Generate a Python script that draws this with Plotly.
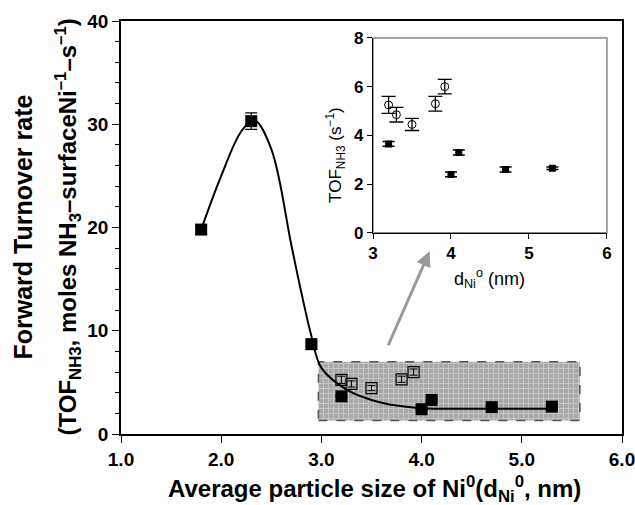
import plotly.graph_objects as go

# Main chart data
main_x = [1.8, 2.3, 2.9, 3.2, 4.0, 4.1, 4.7, 5.3]
main_y = [19.8, 30.3, 8.7, 3.65, 2.4, 3.3, 2.6, 2.65]
main_err = [0.4, 0.8, 0.2, 0.1, 0.1, 0.1, 0.1, 0.05]

open_x = [3.2, 3.3, 3.5, 3.8, 3.92]
open_y = [5.25, 4.85, 4.45, 5.3, 6.0]
open_err = [0.35, 0.3, 0.25, 0.3, 0.3]

# Smooth fitted curve
curve_x = [1.8, 2.0, 2.2, 2.33, 2.5, 2.7, 2.8, 2.9, 3.0, 3.25, 3.5, 3.75, 4.0, 4.5, 5.3]
curve_y = [19.8, 25.0, 29.3, 30.4, 27.6, 18.3, 13.7, 9.5, 6.4, 4.3, 3.3, 2.75, 2.5, 2.45, 2.45]

# Inset data
inset_fill_x = [3.2, 4.0, 4.1, 4.7, 5.3]
inset_fill_y = [3.65, 2.4, 3.3, 2.6, 2.65]
inset_fill_err = [0.1, 0.1, 0.1, 0.1, 0.05]

# Highlight box range
box_x = [2.97, 5.58]
box_y = [1.3, 7.0]

FONT = "Liberation Sans, Arial, sans-serif"

fig = go.Figure()

fig.add_trace(go.Scatter(
    x=[box_x[0], box_x[1], box_x[1], box_x[0], box_x[0]],
    y=[box_y[0], box_y[0], box_y[1], box_y[1], box_y[0]],
    mode="lines", fill="toself",
    fillcolor="#b4b4b4",
    fillpattern=dict(shape="+", fgcolor="#e4e4e4", bgcolor="#a8a8a8", size=5, solidity=0.35),
    line=dict(color="#555555", width=1.5, dash="dash"),
    hoverinfo="skip", showlegend=False, xaxis="x", yaxis="y"))

fig.add_trace(go.Scatter(
    x=curve_x, y=curve_y, mode="lines", line=dict(color="black", width=2, shape="spline", smoothing=1.0),
    showlegend=False, hoverinfo="skip"))

fig.add_trace(go.Scatter(
    x=open_x, y=open_y, mode="markers",
    marker=dict(symbol="square-open", size=11, color="black", line=dict(width=1.2)),
    error_y=dict(type="data", array=open_err, color="black", thickness=1, width=4),
    showlegend=False))

fig.add_trace(go.Scatter(
    x=main_x, y=main_y, mode="markers",
    marker=dict(symbol="square", size=12, color="black"),
    error_y=dict(type="data", array=main_err, color="black", thickness=1.2, width=6),
    showlegend=False))

# Inset traces
fig.add_trace(go.Scatter(
    x=open_x, y=open_y, mode="markers", xaxis="x2", yaxis="y2",
    marker=dict(symbol="circle-open", size=8, color="black", line=dict(width=1)),
    error_y=dict(type="data", array=open_err, color="black", thickness=1.3, width=7),
    showlegend=False))
fig.add_trace(go.Scatter(
    x=inset_fill_x, y=inset_fill_y, mode="markers", xaxis="x2", yaxis="y2",
    marker=dict(symbol="square", size=7, color="black"),
    error_y=dict(type="data", array=inset_fill_err, color="black", thickness=1.5, width=6),
    showlegend=False))

fig.update_layout(
    width=635, height=505,
    margin=dict(l=121, r=13, t=21, b=71, autoexpand=False),
    paper_bgcolor="white", plot_bgcolor="rgba(0,0,0,0)",
    font=dict(family=FONT, color="black"),
    xaxis=dict(range=[1, 6], dtick=1, tickformat=".1f", showgrid=False, zeroline=False,
               automargin=False, ticklabeloverflow="allow",
               showline=True, linecolor="black", linewidth=1.5, mirror=True,
               ticks="outside", ticklen=7, tickwidth=1.2, tickcolor="black",
               tickfont=dict(size=19, weight="bold", family=FONT)),
    yaxis=dict(range=[0, 40], dtick=10, showgrid=False, zeroline=False,
               automargin=False, ticklabeloverflow="allow",
               showline=True, linecolor="black", linewidth=1.5, mirror=True,
               ticks="outside", ticklen=7, tickwidth=1.2, tickcolor="black",
               minor=dict(dtick=2, ticks="outside", ticklen=4, tickcolor="black", showgrid=False),
               tickfont=dict(size=19, weight="bold", family=FONT)),
    xaxis2=dict(domain=[0.503, 0.970], anchor="y2", range=[3, 6], dtick=1, showgrid=False,
                automargin=False,
                zeroline=False, showline=True, linecolor="black", linewidth=1.2,
                ticks="outside", ticklen=5, tickcolor="black",
                tickfont=dict(size=17, weight="bold", family=FONT)),
    yaxis2=dict(domain=[0.487, 0.959], anchor="x2", range=[0, 8], dtick=2, showgrid=False,
                automargin=False,
                zeroline=False, showline=True, linecolor="black", linewidth=1.2,
                ticks="outside", ticklen=5, tickcolor="black",
                tickfont=dict(size=17, weight="bold", family=FONT)),
    shapes=[dict(type="rect", xref="x2 domain", yref="y2 domain", x0=0, x1=1, y0=0, y1=1,
                 line=dict(color="#888888", width=1.5), layer="below")],
)

annotations = [
    dict(text="Forward Turnover rate", x=0, y=0.5, xref="paper", yref="paper",
         xanchor="center", yanchor="middle", xshift=-99, textangle=-90, showarrow=False,
         font=dict(size=25, weight="bold", family=FONT)),
    dict(text="(TOF<sub>NH3</sub>, moles NH<sub>3</sub>–surfaceNi<sup>–1</sup>–s<sup>–1</sup>)",
         x=0, y=0.5, xref="paper", yref="paper",
         xanchor="center", yanchor="middle", xshift=-54, textangle=-90, showarrow=False,
         font=dict(size=24, weight="bold", family=FONT)),
    dict(text="Average particle size of Ni<sup>0</sup>(d<sub>Ni</sub><sup>0</sup>, nm)",
         x=0.505, y=0, xref="paper", yref="paper", xanchor="center", yanchor="middle",
         yshift=-55, showarrow=False, font=dict(size=24, weight="bold", family=FONT)),
    dict(text="TOF<sub>NH3</sub> (s<sup>−1</sup>)", x=0, y=0.4, xref="x2 domain", yref="y2 domain",
         xanchor="center", yanchor="middle", xshift=-37, textangle=-90, showarrow=False,
         font=dict(size=17, family=FONT)),
    dict(text="d<sub>Ni</sub><sup>o</sup> (nm)", x=0.5, y=0, xref="x2 domain", yref="y2 domain",
         xanchor="center", yanchor="middle", yshift=-46, showarrow=False,
         font=dict(size=18, family=FONT)),
    dict(x=4.08, y=17.7, ax=3.66, ay=8.45, xref="x", yref="y", axref="x", ayref="y",
         showarrow=True, arrowhead=2, arrowsize=1, arrowwidth=3, arrowcolor="#999999", text=""),
]
fig.update_layout(annotations=annotations)

fig.write_html("out.html", config={"displayModeBar": False},
               post_script="document.body.style.margin='0';document.body.style.overflow='hidden';")
